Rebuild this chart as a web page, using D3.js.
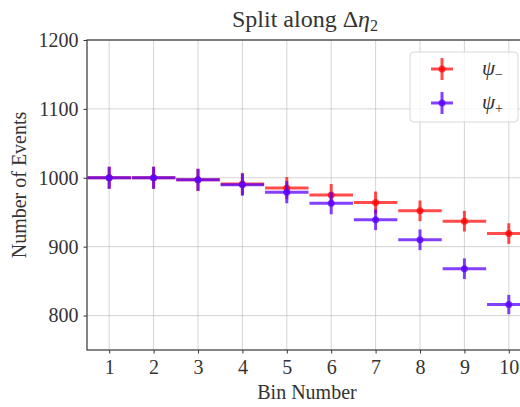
<!DOCTYPE html>
<html>
<head>
<meta charset="utf-8">
<script src="https://cdn.jsdelivr.net/npm/d3@7"></script>
<style>
  html, body { margin: 0; padding: 0; background: #fff; }
  svg { display: block; }
  text { font-family: "Liberation Serif", "DejaVu Serif", serif; fill: #333; }
</style>
</head>
<body>
<svg id="chart" width="520" height="407"></svg>
<script>
// Event counts per bin for the two splits
const bins = [1, 2, 3, 4, 5, 6, 7, 8, 9, 10];
const psiMinus = [1000, 1000, 997, 991, 985, 975, 964, 952, 937, 919];
const psiPlus  = [1000, 1000, 997, 990, 979, 963, 939, 910, 868, 816];
const errMinus = [16, 16, 16, 16, 16, 16, 16, 15, 15, 15];
const errPlus  = [16, 16, 16, 16, 16, 16, 15, 15, 15, 14];
const binHalfWidth = 0.49;
const xTicks = [1, 2, 3, 4, 5, 6, 7, 8, 9, 10];
const yTicks = [800, 900, 1000, 1100, 1200];

const svg = d3.select("#chart");
const plotLeft = 87, plotTop = 40, plotBottom = 350, plotRight = 531;

const x = d3.scaleLinear().domain([0.5, 10.5]).range([plotLeft, plotRight]);
const y = d3.scaleLinear().domain([750, 1200]).range([plotBottom, plotTop]);

svg.append("defs").append("clipPath").attr("id", "plotArea")
  .append("rect").attr("x", plotLeft).attr("y", plotTop)
  .attr("width", plotRight - plotLeft).attr("height", plotBottom - plotTop);

// grid
const grid = svg.append("g");
grid.selectAll("line.gx").data(xTicks).join("line")
  .attr("x1", d => x(d)).attr("x2", d => x(d))
  .attr("y1", plotTop).attr("y2", plotBottom)
  .attr("stroke", "#b0b0b0").attr("stroke-opacity", 0.55).attr("stroke-width", 1);
grid.selectAll("line.gy").data(yTicks).join("line")
  .attr("x1", plotLeft).attr("x2", plotRight)
  .attr("y1", d => y(d)).attr("y2", d => y(d))
  .attr("stroke", "#b0b0b0").attr("stroke-opacity", 0.55).attr("stroke-width", 1);

// series
const series = [
  { name: "minus", values: psiMinus, errs: errMinus, color: "#ff0000", opacity: 0.7 },
  { name: "plus",  values: psiPlus,  errs: errPlus,  color: "#5a00ff", opacity: 0.75 }
];

const plot = svg.append("g").attr("clip-path", "url(#plotArea)");
series.forEach(s => {
  const g = plot.append("g");
  const pts = bins.map((b, i) => ({ b, v: s.values[i], e: s.errs[i] }));
  g.selectAll("line.h").data(pts).join("line")
    .attr("x1", d => x(d.b - binHalfWidth)).attr("x2", d => x(d.b + binHalfWidth))
    .attr("y1", d => y(d.v)).attr("y2", d => y(d.v))
    .attr("stroke", s.color).attr("stroke-opacity", s.opacity).attr("stroke-width", 3);
  g.selectAll("line.v").data(pts).join("line")
    .attr("x1", d => x(d.b)).attr("x2", d => x(d.b))
    .attr("y1", d => y(d.v - d.e)).attr("y2", d => y(d.v + d.e))
    .attr("stroke", s.color).attr("stroke-opacity", s.opacity).attr("stroke-width", 3);
  g.selectAll("circle").data(pts).join("circle")
    .attr("cx", d => x(d.b)).attr("cy", d => y(d.v)).attr("r", 3.5)
    .attr("fill", s.color).attr("fill-opacity", s.opacity);
});

// axes
const xAxis = d3.axisBottom(x).tickValues(xTicks).tickSize(3.5).tickPadding(6).tickFormat(d3.format("d"));
const yAxis = d3.axisLeft(y).tickValues(yTicks).tickSize(3.5).tickPadding(5).tickFormat(d3.format("d"));

const gx = svg.append("g").attr("transform", `translate(0,${plotBottom})`).call(xAxis);
const gy = svg.append("g").attr("transform", `translate(${plotLeft},0)`).call(yAxis);
[gx, gy].forEach(g => {
  g.select(".domain").remove();
  g.selectAll(".tick line").attr("stroke", "#333");
  g.selectAll(".tick text").attr("font-size", 20).attr("fill", "#333")
    .style("font-family", "'Liberation Serif', serif");
});

// frame
svg.append("rect").attr("x", plotLeft).attr("y", plotTop)
  .attr("width", plotRight - plotLeft).attr("height", plotBottom - plotTop)
  .attr("fill", "none").attr("stroke", "#444").attr("stroke-width", 1.3);

// labels
svg.append("text").attr("x", 305).attr("y", 27).attr("text-anchor", "middle")
  .attr("font-size", 24)
  .html('Split along Δ<tspan font-style="italic">η</tspan><tspan font-size="16" dy="4">2</tspan>');
svg.append("text").attr("x", 307).attr("y", 399).attr("text-anchor", "middle")
  .attr("font-size", 20).text("Bin Number");
svg.append("text").attr("transform", "translate(26,185) rotate(-90)")
  .attr("text-anchor", "middle").attr("font-size", 20).text("Number of Events");

// legend
const lg = svg.append("g");
lg.append("rect").attr("x", 410).attr("y", 52).attr("width", 108).attr("height", 70)
  .attr("rx", 4).attr("fill", "#fff").attr("fill-opacity", 0.8)
  .attr("stroke", "#d8d8d8").attr("stroke-width", 1);
const legendItems = [
  { s: series[0], sub: "−", cy: 69 },
  { s: series[1], sub: "+", cy: 103 }
];
legendItems.forEach(it => {
  lg.append("line").attr("x1", 431).attr("x2", 453).attr("y1", it.cy).attr("y2", it.cy)
    .attr("stroke", it.s.color).attr("stroke-opacity", it.s.opacity).attr("stroke-width", 3);
  lg.append("line").attr("x1", 442).attr("x2", 442).attr("y1", it.cy - 11).attr("y2", it.cy + 11)
    .attr("stroke", it.s.color).attr("stroke-opacity", it.s.opacity).attr("stroke-width", 3);
  lg.append("circle").attr("cx", 442).attr("cy", it.cy).attr("r", 3.5)
    .attr("fill", it.s.color).attr("fill-opacity", it.s.opacity);
  lg.append("text").attr("x", 482).attr("y", it.cy + 6).attr("font-size", 21)
    .html(`<tspan font-style="italic">ψ</tspan><tspan font-size="14" dy="4">${it.sub}</tspan>`);
});
</script>
</body>
</html>
